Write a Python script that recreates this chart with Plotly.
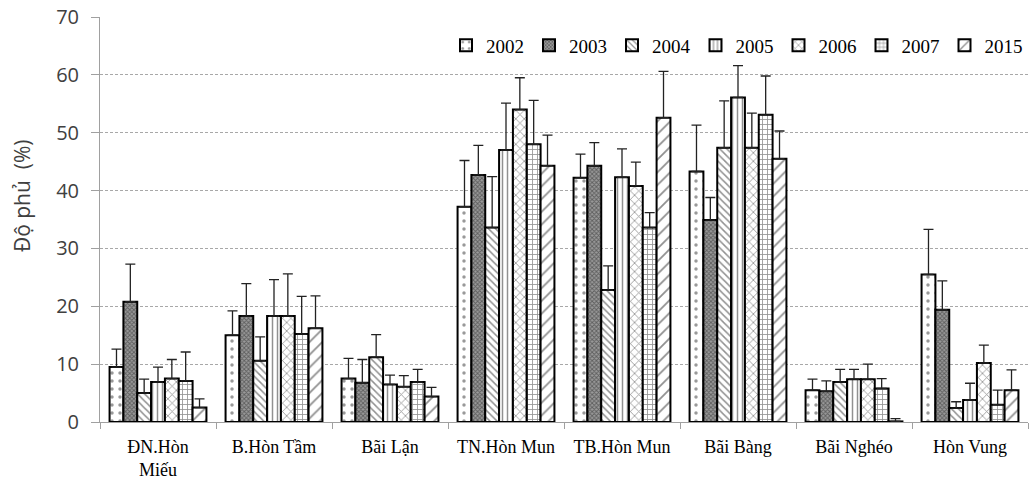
import plotly.graph_objects as go

categories = ["ĐN.Hòn<br>Miếu", "B.Hòn Tầm", "Bãi Lận", "TN.Hòn Mun", "TB.Hòn Mun",
              "Bãi Bàng", "Bãi Nghéo", "Hòn Vung"]
years = ["2002", "2003", "2004", "2005", "2006", "2007", "2015"]

v2002 = [9.5, 15.0, 7.5, 37.2, 42.2, 43.3, 5.5, 25.5]
v2003 = [20.8, 18.3, 6.8, 42.7, 44.3, 34.9, 5.3, 19.4]
v2004 = [5.0, 10.6, 11.2, 33.6, 22.8, 47.4, 6.9, 2.4]
v2005 = [6.9, 18.3, 6.5, 47.0, 42.3, 56.1, 7.4, 3.8]
v2006 = [7.5, 18.3, 6.1, 54.0, 40.8, 47.4, 7.4, 10.2]
v2007 = [7.1, 15.2, 6.9, 48.0, 33.6, 53.1, 5.8, 3.0]
v2015 = [2.5, 16.2, 4.4, 44.3, 52.6, 45.5, 0.1, 5.5]

e2002 = [3.1, 4.2, 3.5, 8.0, 4.1, 8.0, 1.9, 7.8]
e2003 = [6.5, 5.6, 4.0, 5.1, 4.0, 3.9, 1.8, 5.0]
e2004 = [2.4, 4.1, 3.9, 8.8, 4.2, 8.1, 2.2, 1.1]
e2005 = [2.6, 6.3, 1.6, 8.1, 4.9, 5.5, 1.7, 2.9]
e2006 = [3.3, 7.3, 1.9, 5.5, 4.1, 6.0, 2.6, 3.1]
e2007 = [5.0, 6.5, 2.2, 7.6, 2.6, 6.7, 1.7, 2.5]
e2015 = [1.5, 5.6, 1.6, 5.3, 8.0, 4.8, 0.5, 3.5]

values = [v2002, v2003, v2004, v2005, v2006, v2007, v2015]
errors = [e2002, e2003, e2004, e2005, e2006, e2007, e2015]

y_title = "Độ phủ  (%)"

patterns = [
    dict(shape=".", size=8, solidity=0.15, fgcolor="#333333", bgcolor="white"),
    dict(shape="x", size=3, solidity=0.5, fgcolor="#222222", bgcolor="#9a9a9a"),
    dict(shape="\\", size=5, solidity=0.3, fgcolor="#222222", bgcolor="white"),
    dict(shape="|", size=5, solidity=0.3, fgcolor="#222222", bgcolor="white"),
    dict(shape="x", size=6, solidity=0.25, fgcolor="#222222", bgcolor="white"),
    dict(shape="+", size=5, solidity=0.3, fgcolor="#222222", bgcolor="white"),
    dict(shape="/", size=9, solidity=0.2, fgcolor="#222222", bgcolor="white"),
]

fig = go.Figure()
for yr, vals, errs, pat in zip(years, values, errors, patterns):
    fig.add_trace(go.Bar(
        name=yr, x=categories, y=vals,
        marker=dict(color="white", line=dict(color="black", width=2), pattern=pat),
        error_y=dict(type="data", array=errs, arrayminus=[0] * len(errs), symmetric=False,
                     color="#222222", thickness=1.3, width=5),
    ))

fig.update_layout(
    width=1029, height=483,
    barmode="group", bargap=0.165, bargroupgap=0,
    plot_bgcolor="white", paper_bgcolor="white",
    margin=dict(l=100, r=1, t=17, b=61),
    legend=dict(orientation="h", x=1.0, xanchor="right", y=0.93, yanchor="middle",
                font=dict(family="Liberation Serif", size=19, color="black"),
                bgcolor="rgba(0,0,0,0)", itemwidth=30, tracegroupgap=0),
    showlegend=True,
    annotations=[dict(text=y_title, xref="paper", yref="paper", x=-0.084, y=0.558,
                      xanchor="center", yanchor="middle", textangle=-90, showarrow=False,
                      font=dict(family="Open Sans", size=21, color="#404040"))],
)
fig.update_xaxes(
    showline=True, linecolor="#a0a0a0", linewidth=1,
    ticks="outside", tickson="boundaries", ticklen=6, tickcolor="#a0a0a0",
    tickfont=dict(family="Liberation Serif", size=18, color="black"),
    ticklabelstandoff=8,
    showgrid=False,
)
fig.update_yaxes(
    range=[0, 70], dtick=10,
    showline=True, linecolor="#a0a0a0", linewidth=1,
    ticks="outside", ticklen=8, tickcolor="#a0a0a0",
    tickfont=dict(family="Open Sans", size=20, color="#404040"),
    ticklabelstandoff=8,
    showgrid=True, gridcolor="#a8a8a8", griddash="3px,2px", gridwidth=1,
    zeroline=False,
)

fig.write_html("out.html")
